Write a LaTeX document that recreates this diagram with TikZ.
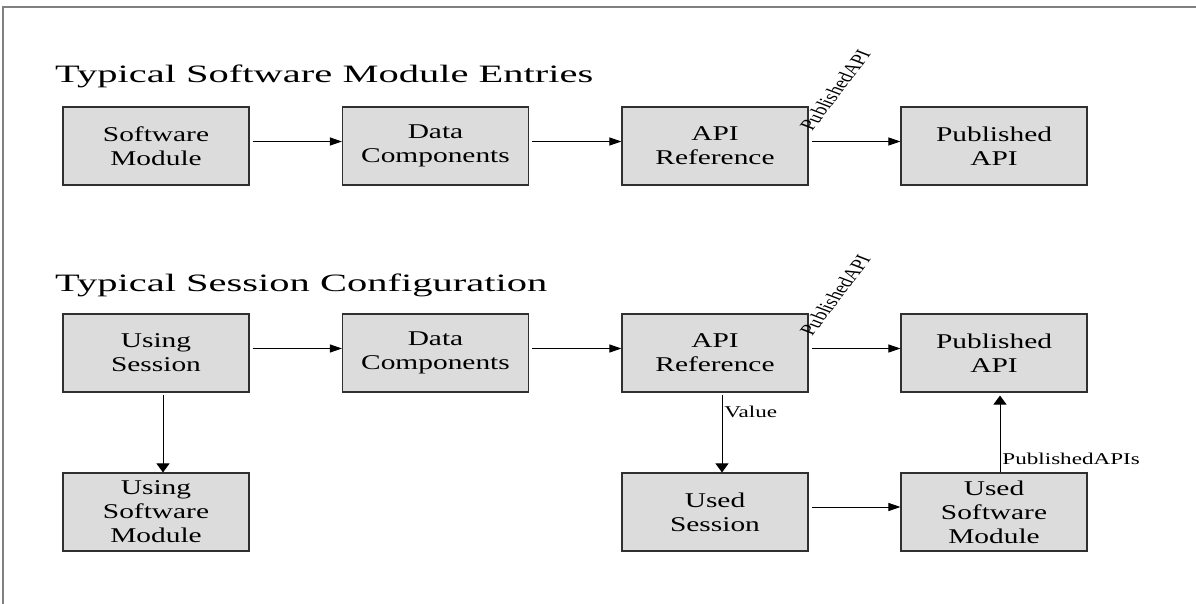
\documentclass[tikz,border=0pt]{standalone}
\usepackage{fontspec}
\setmainfont{Liberation Serif}
\newfontfamily\titlefont{Liberation Serif}[FakeStretch=1.62]
\newfontfamily\boxfont{Liberation Serif}[FakeStretch=1.4]
\usetikzlibrary{arrows.meta}
\definecolor{boxfill}{HTML}{DCDCDC}
\definecolor{boxline}{HTML}{303030}
\definecolor{framec}{HTML}{808080}
\begin{document}
\begin{tikzpicture}[x=1pt,y=-1pt,
  box/.style={draw=boxline, fill=boxfill, line width=1.1pt, minimum width=186pt, minimum height=78pt, inner sep=0pt, align=center, font=\boxfont\fontsize{21}{24}\selectfont},
  ttl/.style={anchor=base west, inner sep=0pt, font=\titlefont\fontsize{25}{29}\selectfont},
  harr/.style={line width=0.9pt, -{Triangle[length=12pt,width=8pt]}, shorten <=3pt},
  varr/.style={line width=0.9pt, -{Triangle[length=9pt,width=13pt]}},
  lbl/.style={font=\boxfont\fontsize{16.5}{19}\selectfont, inner sep=2pt, anchor=west},
  rotlbl/.style={font=\fontsize{16}{19}\selectfont, inner sep=0pt, anchor=base west, rotate=61.5, transform shape}
]
\useasboundingbox (0,0) rectangle (1196,604);
\draw[framec, line width=1.5pt] (3,604) -- (3,7) -- (1196,7);

\node[ttl] (t1) at (55,83) {Typical Software Module Entries};
\node[ttl] (t2) at (55,291) {Typical Session Configuration};

\node[box] (sm)  at (156,146)   {Software\\Module};
\node[box] (dc1) at (435.5,146) {Data\\Components};
\node[box] (ar1) at (715,146)   {API\\Reference};
\node[box] (pa1) at (994,146)   {Published\\API};

\node[box] (us)  at (156,353)   {Using\\Session};
\node[box] (dc2) at (435.5,353) {Data\\Components};
\node[box] (ar2) at (715,353)   {API\\Reference};
\node[box] (pa2) at (994,353)   {Published\\API};

\node[box] (usm)    at (156,512) {Using\\Software\\Module};
\node[box] (used)   at (715,512) {Used\\Session};
\node[box] (usedsm) at (994,512) {Used\\Software\\Module};

\draw[harr] ([yshift=4.5pt]sm.east)  -- ([yshift=4.5pt]dc1.west);
\draw[harr] ([yshift=4.5pt]dc1.east) -- ([yshift=4.5pt]ar1.west);
\draw[harr] ([yshift=4.5pt]ar1.east) -- ([yshift=4.5pt]pa1.west);

\draw[harr] ([yshift=4.5pt]us.east)  -- ([yshift=4.5pt]dc2.west);
\draw[harr] ([yshift=4.5pt]dc2.east) -- ([yshift=4.5pt]ar2.west);
\draw[harr] ([yshift=4.5pt]ar2.east) -- ([yshift=4.5pt]pa2.west);

\draw[harr] ([yshift=5pt]used.east) -- ([yshift=5pt]usedsm.west);

\draw[varr, shorten <=2pt] ([xshift=7pt]us.south) -- ([xshift=7pt]usm.north);
\draw[varr, shorten <=2pt] ([xshift=7pt]ar2.south) -- node[lbl, pos=0.24] (vl) {Value} ([xshift=7pt]used.north);
\draw[varr, shorten >=3pt] ([xshift=6pt]usedsm.north) -- node[lbl, pos=0.17] (pl) {PublishedAPIs} ([xshift=6pt]pa2.south);

\begin{scope}[shift={(812,132)}, xscale=1.4]
  \node[rotlbl] (r1) at (0,0) {PublishedAPI};
\end{scope}
\begin{scope}[shift={(812,337)}, xscale=1.4]
  \node[rotlbl] (r2) at (0,0) {PublishedAPI};
\end{scope}
\end{tikzpicture}
\end{document}
